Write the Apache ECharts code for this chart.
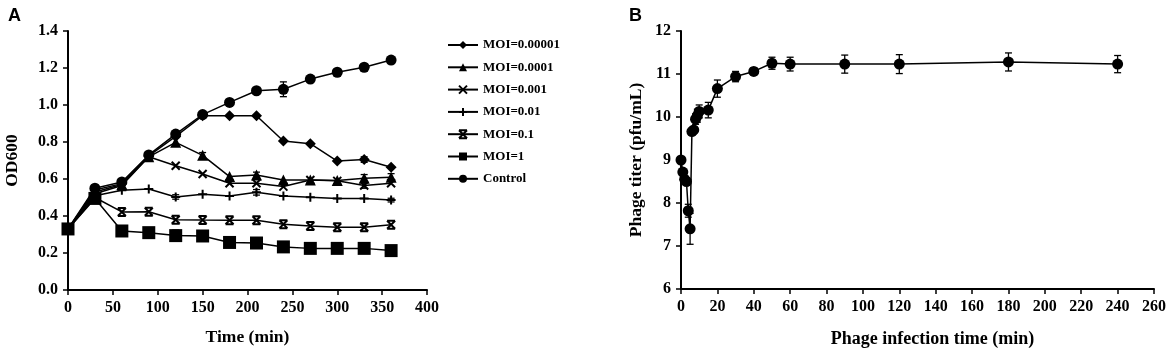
<!DOCTYPE html>
<html>
<head>
<meta charset="utf-8">
<script src="https://cdn.jsdelivr.net/npm/echarts@6/dist/echarts.min.js"></script>
<style>html,body{margin:0;padding:0;background:#fff;}#c{width:1170px;height:353px;}</style>
</head>
<body>
<div id="c"></div>
<script>
// ---- Panel A data ----
const timeA = [0, 30, 60, 90, 120, 150, 180, 210, 240, 270, 300, 330, 360];
const seriesNamesA = ['MOI=0.00001', 'MOI=0.0001', 'MOI=0.001', 'MOI=0.01', 'MOI=0.1', 'MOI=1', 'Control'];
const moi00001 = [0.33, 0.54, 0.575, 0.725, 0.83, 0.942, 0.942, 0.942, 0.805, 0.791, 0.697, 0.705, 0.663];
const moi0001  = [0.33, 0.53, 0.57, 0.72, 0.798, 0.728, 0.613, 0.622, 0.595, 0.595, 0.592, 0.604, 0.609];
const moi001   = [0.33, 0.52, 0.565, 0.72, 0.672, 0.627, 0.577, 0.577, 0.559, 0.595, 0.59, 0.565, 0.577];
const moi01    = [0.33, 0.51, 0.539, 0.546, 0.503, 0.517, 0.508, 0.528, 0.508, 0.501, 0.495, 0.495, 0.486];
const moi1e1   = [0.33, 0.50, 0.422, 0.423, 0.38, 0.378, 0.377, 0.377, 0.355, 0.346, 0.339, 0.339, 0.353];
const moi1     = [0.33, 0.495, 0.319, 0.31, 0.294, 0.292, 0.257, 0.254, 0.233, 0.225, 0.225, 0.225, 0.213];
const control  = [0.33, 0.55, 0.584, 0.73, 0.843, 0.948, 1.014, 1.077, 1.085, 1.14, 1.177, 1.204, 1.243];
const err00001 = [0, 0, 0, 0, 0, 0, 0, 0, 0, 0, 0, 0.015, 0];
const err0001  = [0, 0, 0, 0, 0, 0.015, 0, 0.015, 0, 0, 0, 0.02, 0.02];
const err001   = [0, 0, 0, 0, 0, 0, 0, 0, 0, 0, 0, 0.015, 0];
const err01    = [0, 0, 0, 0, 0.012, 0, 0, 0.015, 0, 0, 0, 0, 0.01];
const err1e1   = [0, 0, 0, 0, 0, 0, 0, 0, 0, 0, 0, 0, 0];
const err1     = [0, 0, 0, 0, 0.03, 0, 0, 0, 0, 0, 0, 0, 0];
const errCtrl  = [0, 0, 0, 0, 0, 0, 0, 0, 0.04, 0, 0, 0, 0];
const yTicksA = [0.0, 0.2, 0.4, 0.6, 0.8, 1.0, 1.2, 1.4];
const xTicksA = [0, 50, 100, 150, 200, 250, 300, 350, 400];

// ---- Panel B data ----
const timeB  = [0, 1, 2, 3, 4, 5, 6, 7, 8, 9, 10, 15, 20, 30, 40, 50, 60, 90, 120, 180, 240];
const titerB = [9.0, 8.72, 8.55, 8.5, 7.82, 7.4, 9.66, 9.7, 9.95, 10.03, 10.13, 10.16, 10.66, 10.94, 11.06, 11.25, 11.23, 11.23, 11.23, 11.28, 11.23];
const errB   = [0.03, 0.05, 0.05, 0.05, 0.15, 0.36, 0.05, 0.05, 0.12, 0.15, 0.15, 0.18, 0.2, 0.12, 0.08, 0.14, 0.16, 0.21, 0.22, 0.21, 0.2];
const yTicksB = [6, 7, 8, 9, 10, 11, 12];
const xTicksB = [0, 20, 40, 60, 80, 100, 120, 140, 160, 180, 200, 220, 240, 260];

const SERIF = '"Liberation Serif", "Times New Roman", serif';
const symA = [
  {symbol: 'diamond', size: 11},
  {symbol: 'triangle', size: 11},
  {symbol: 'path://M0,0L10,10M10,0L0,10', size: 8},
  {symbol: 'path://M5,0L5,10M2,5L8,5', size: 9},
  {symbol: 'path://M0,0L10,0M0,10L10,10M0,0L10,10M10,0L0,10', size: 8},
  {symbol: 'rect', size: 13},
  {symbol: 'circle', size: 11}
];
const valsA = [moi00001, moi0001, moi001, moi01, moi1e1, moi1, control];
const errsA = [err00001, err0001, err001, err01, err1e1, err1, errCtrl];

function errorBar(xIdx, yIdx, xs, ys, es) {
  const data = xs.map((x, i) => [x, ys[i] - es[i], ys[i] + es[i]]).filter((d, i) => es[i] > 0);
  return {
    type: 'custom', xAxisIndex: xIdx, yAxisIndex: yIdx, silent: true, z: 1,
    data: data,
    renderItem: function (params, api) {
      const lo = api.coord([api.value(0), api.value(1)]);
      const hi = api.coord([api.value(0), api.value(2)]);
      const w = 3.5;
      const st = {stroke: '#000', lineWidth: 1.3};
      return {type: 'group', children: [
        {type: 'line', shape: {x1: lo[0], y1: lo[1], x2: hi[0], y2: hi[1]}, style: st},
        {type: 'line', shape: {x1: lo[0] - w, y1: lo[1], x2: lo[0] + w, y2: lo[1]}, style: st},
        {type: 'line', shape: {x1: hi[0] - w, y1: hi[1], x2: hi[0] + w, y2: hi[1]}, style: st}
      ]};
    }
  };
}

const axisCommon = {
  axisLine: {show: true, onZero: false, lineStyle: {color: '#000', width: 2}},
  axisTick: {show: true, inside: false, length: 5, lineStyle: {color: '#000', width: 1.5}},
  splitLine: {show: false},
  axisLabel: {color: '#000', fontFamily: SERIF, fontWeight: 'bold', fontSize: 16, margin: 10},
  nameTextStyle: {color: '#000', fontFamily: SERIF, fontWeight: 'bold', fontSize: 17.5}
};

const series = [];
valsA.forEach((v, k) => {
  series.push({
    name: seriesNamesA[k], type: 'line', xAxisIndex: 0, yAxisIndex: 0,
    data: timeA.map((t, i) => [t, v[i]]),
    symbol: symA[k].symbol, symbolSize: symA[k].size, showSymbol: true,
    lineStyle: {color: '#000', width: 1.5},
    itemStyle: {color: '#000', borderColor: '#000', borderWidth: (k === 2 || k === 3 || k === 4) ? 2 : 0},
    z: 2 + k, animation: false
  });
  series.push(errorBar(0, 0, timeA, v, errsA[k]));
});
series.push({
  name: 'B', type: 'line', xAxisIndex: 1, yAxisIndex: 1,
  data: timeB.map((t, i) => [t, titerB[i]]),
  symbol: 'circle', symbolSize: 11,
  lineStyle: {color: '#000', width: 1.5}, itemStyle: {color: '#000'}, z: 3, animation: false
});
series.push(errorBar(1, 1, timeB, titerB, errB));

const option = {
  animation: false,
  backgroundColor: '#fff',
  title: [
    {text: 'A', left: 3, top: 2, textStyle: {fontFamily: '"Liberation Sans", Arial, sans-serif', fontWeight: 'bold', fontSize: 18, color: '#000'}},
    {text: 'B', left: 624, top: 2, textStyle: {fontFamily: '"Liberation Sans", Arial, sans-serif', fontWeight: 'bold', fontSize: 18, color: '#000'}}
  ],
  legend: {
    data: seriesNamesA, orient: 'vertical', left: 442, top: 33,
    itemWidth: 30, itemHeight: 10, itemGap: 8.3,
    textStyle: {fontFamily: SERIF, fontWeight: 'bold', fontSize: 13, color: '#000', lineHeight: 14}
  },
  grid: [
    {left: 68, top: 31, width: 359, height: 259},
    {left: 681, top: 31, width: 473, height: 258}
  ],
  xAxis: [
    Object.assign({}, axisCommon, {gridIndex: 0, type: 'value', min: xTicksA[0], max: xTicksA[xTicksA.length - 1], interval: 50,
      name: 'Time (min)', nameLocation: 'middle', nameGap: 38}),
    Object.assign({}, axisCommon, {gridIndex: 1, type: 'value', min: xTicksB[0], max: xTicksB[xTicksB.length - 1], interval: 20,
      name: 'Phage infection time (min)', nameLocation: 'middle', nameGap: 41,
      nameTextStyle: Object.assign({}, axisCommon.nameTextStyle, {fontSize: 18, padding: [0, 0, 0, 30]})})
  ],
  yAxis: [
    Object.assign({}, axisCommon, {gridIndex: 0, type: 'value', min: yTicksA[0], max: yTicksA[yTicksA.length - 1], interval: 0.2,
      name: 'OD600', nameLocation: 'middle', nameGap: 47,
      axisLabel: Object.assign({}, axisCommon.axisLabel, {formatter: v => v.toFixed(1)})}),
    Object.assign({}, axisCommon, {gridIndex: 1, type: 'value', min: yTicksB[0], max: yTicksB[yTicksB.length - 1], interval: 1,
      name: 'Phage titer (pfu/mL)', nameLocation: 'middle', nameGap: 36})
  ],
  series: series
};
const chart = echarts.init(document.getElementById('c'), null, {renderer: 'canvas'});
chart.setOption(option);
</script>
</body>
</html>
